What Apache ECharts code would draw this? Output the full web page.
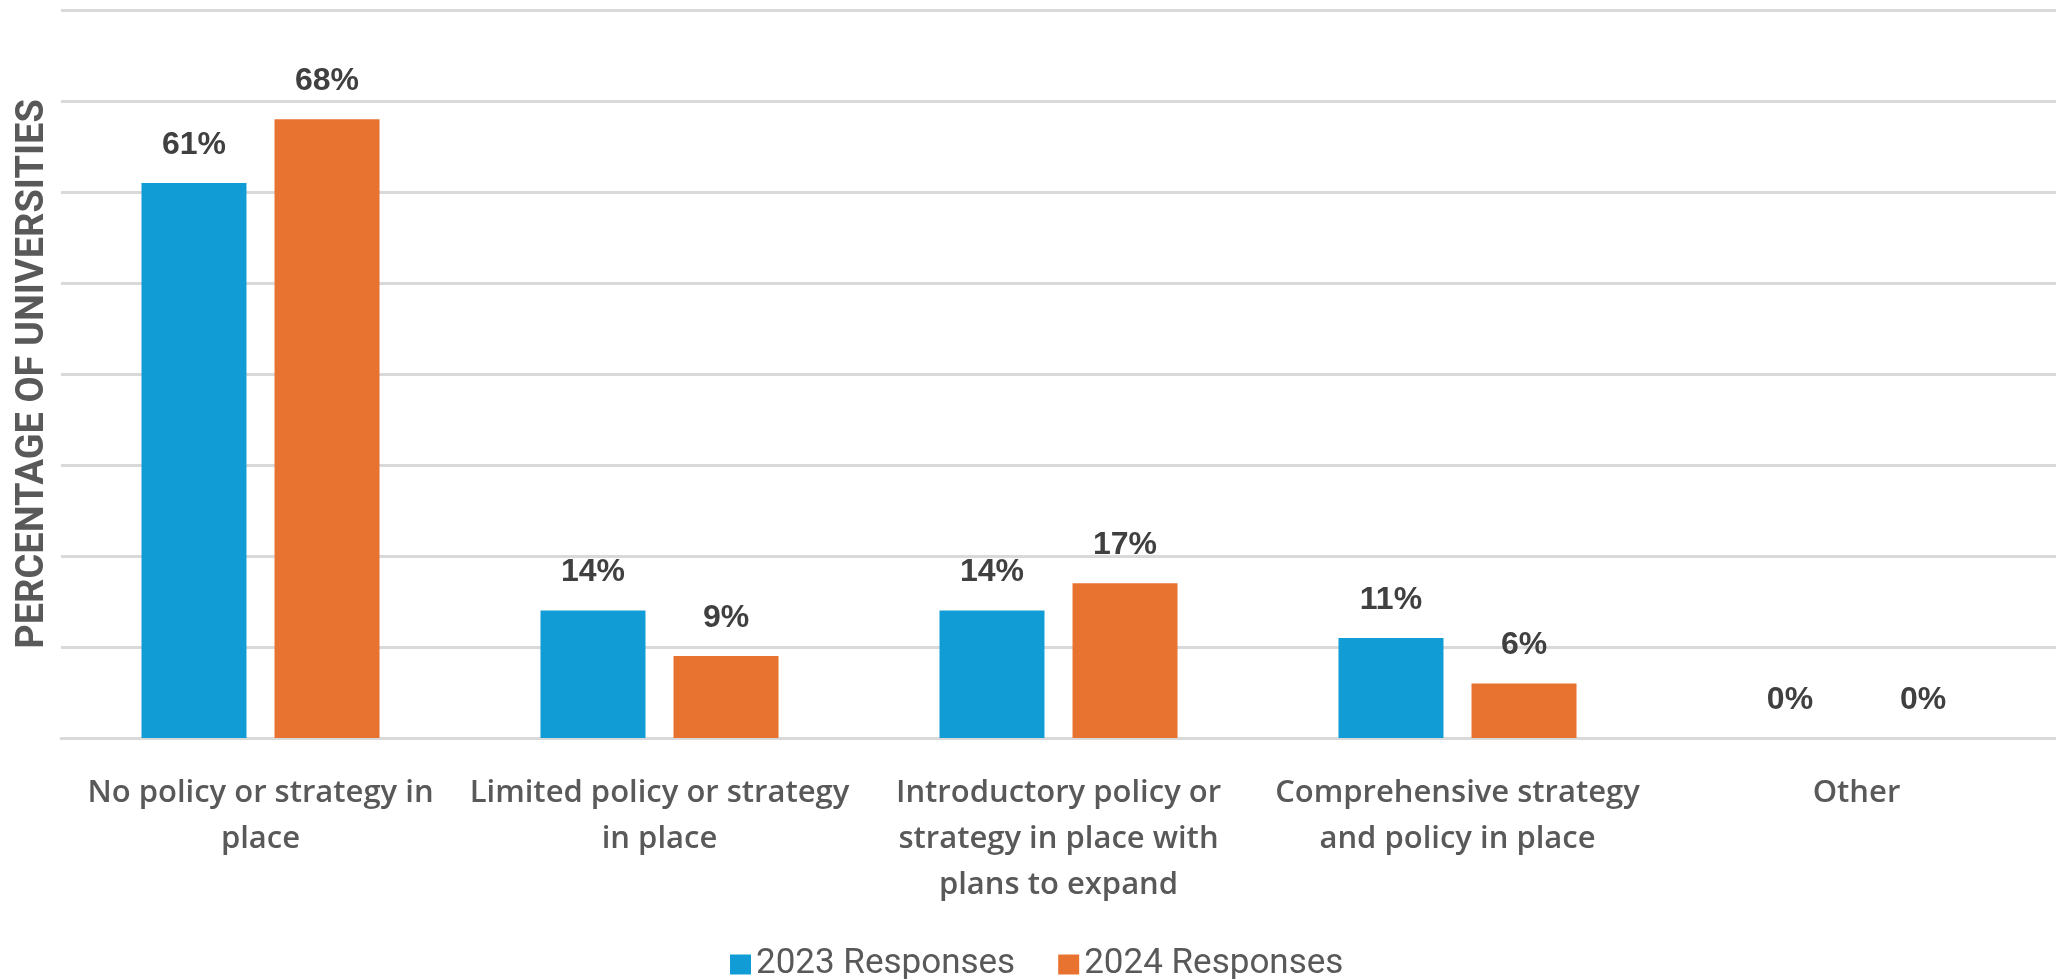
<!DOCTYPE html>
<html>
<head>
<meta charset="utf-8">
<title>University AI policy status</title>
<script src="https://cdn.jsdelivr.net/npm/echarts@6/dist/echarts.min.js"></script>
<style>
  html, body { margin: 0; padding: 0; background: #ffffff; }
  #chart { width: 2056px; height: 979px; }
</style>
</head>
<body>
<div id="chart"></div>
<script>
// Policy stages (line breaks follow the printed wrapping)
const categories = [
  'No policy or strategy in\nplace',
  'Limited policy or strategy\nin place',
  'Introductory policy or\nstrategy in place with\nplans to expand',
  'Comprehensive strategy\nand policy in place',
  'Other'
];
const seriesNames = ['2023 Responses', '2024 Responses'];
const responses2023 = [61, 14, 14, 11, 0];
const responses2024 = [68, 9, 17, 6, 0];
const yTicks = { min: 0, max: 80, interval: 10 };

const chart = echarts.init(document.getElementById('chart'), null, { renderer: 'canvas' });

const valueLabel = {
  show: true,
  position: 'top',
  distance: 22,
  formatter: '{c}%',
  fontFamily: "'Liberation Sans', Arial, sans-serif",
  fontWeight: 'bold',
  fontSize: 32,
  color: '#404040'
};

chart.setOption({
  animation: false,
  backgroundColor: '#ffffff',
  grid: { left: 61, right: 0, top: 10, bottom: 241, containLabel: false, outerBoundsMode: 'none' },
  legend: {
    left: 725,
    top: 942,
    itemWidth: 21,
    itemHeight: 20,
    itemGap: 43,
    icon: 'rect',
    textStyle: { fontFamily: 'Roboto, sans-serif', fontSize: 35, color: '#595959' },
    data: seriesNames
  },
  xAxis: {
    type: 'category',
    data: categories,
    axisLine: { show: true, lineStyle: { color: '#d9d9d9', width: 3 } },
    axisTick: { show: false },
    axisLabel: {
      interval: 0,
      margin: 32,
      fontFamily: "'Open Sans', Lato, sans-serif",
      fontWeight: 600,
      fontSize: 31,
      lineHeight: 46,
      color: '#595959'
    }
  },
  yAxis: {
    type: 'value',
    min: yTicks.min,
    max: yTicks.max,
    interval: yTicks.interval,
    name: 'PERCENTAGE OF UNIVERSITIES',
    nameLocation: 'middle',
    nameGap: 9,
    nameTextStyle: { fontFamily: 'Roboto, sans-serif', fontWeight: 'bold', fontSize: 38, color: '#595959' },
    axisLine: { show: false },
    axisTick: { show: false },
    axisLabel: { show: false },
    splitLine: { lineStyle: { color: '#d9d9d9', width: 3 } }
  },
  series: [
    {
      name: seriesNames[0],
      type: 'bar',
      data: responses2023,
      barWidth: 105,
      barGap: '26.7%',
      itemStyle: { color: '#129cd6' },
      label: valueLabel
    },
    {
      name: seriesNames[1],
      type: 'bar',
      data: responses2024,
      barWidth: 105,
      barGap: '26.7%',
      itemStyle: { color: '#e8722f' },
      label: valueLabel
    }
  ]
});
</script>
</body>
</html>
